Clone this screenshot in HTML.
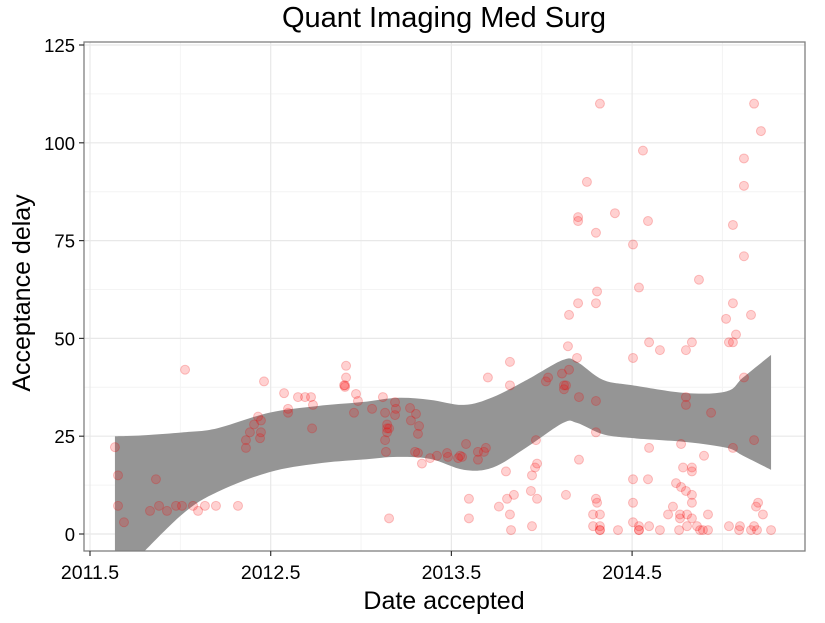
<!DOCTYPE html>
<html><head><meta charset="utf-8"><style>
body{margin:0;background:#fff;}
svg text{font-family:"Liberation Sans",sans-serif;}
</style></head><body>
<svg id="chart" width="825" height="618" xmlns="http://www.w3.org/2000/svg">
<defs><clipPath id="clip"><rect x="84" y="42" width="721" height="509"/></clipPath></defs>
<rect x="84" y="42" width="721" height="509" fill="#fff"/>
<g id="grid"></g>
<g id="ribbon" clip-path="url(#clip)"></g>
<g id="points" clip-path="url(#clip)"></g>
<rect x="84" y="42" width="721" height="509" fill="none" stroke="#7f7f7f" stroke-width="1.3"/>
<g id="axes"></g>
<text x="444" y="27" text-anchor="middle" font-size="29" fill="#000">Quant Imaging Med Surg</text>
<text x="444" y="609" text-anchor="middle" font-size="25" fill="#000">Date accepted</text>
<text transform="translate(30,293) rotate(-90)" text-anchor="middle" font-size="25" fill="#000">Acceptance delay</text>
</svg>
<script>
const xTicks=[2011.5,2012.5,2013.5,2014.5];
const xTickLabels=["2011.5","2012.5","2013.5","2014.5"];
const yTicks=[0,25,50,75,100,125];
const yTickLabels=["0","25","50","75","100","125"];
const ribbonX=[2011.638,2011.788,2012.020,2012.203,2012.491,2012.756,2013.0,2013.199,2013.382,2013.570,2013.730,2013.918,2014.118,2014.195,2014.339,2014.505,2014.804,2015.025,2015.114,2015.269];
const ribbonUpper=[25,25.2,26,27,31,32.7,33.7,34.8,34.3,33,35,39.4,44.5,44,39.4,38,36,36.5,40,45.8];
const ribbonLower=[-12,-5,5.4,10.7,15.8,18,19,19.7,19.2,16.4,17,22.2,28.4,28.4,25.5,24.5,23.5,22,20,16.4];
const dates=[2011.638,2011.655,2011.655,2011.688,2012.026,2011.865,2011.832,2011.882,2011.926,2011.976,2012.009,2012.070,2012.098,2012.136,2012.197,2012.319,
2012.463,2012.363,2012.363,2012.385,2012.408,2012.430,2012.446,2012.441,2012.446,2012.574,2012.596,2012.596,2012.651,2012.690,2012.723,2012.734,2012.729,
2012.906,2012.911,2012.911,2012.917,2012.917,2012.961,2012.972,2012.983,2013.061,2013.121,2013.133,2013.144,2013.144,2013.133,2013.138,2013.155,2013.155,2013.144,2013.188,2013.188,2013.193,
2013.271,2013.276,2013.304,2013.315,2013.321,2013.299,2013.315,2013.337,2013.382,2013.420,2013.476,2013.481,2013.537,2013.559,
2014.322,2015.175,2015.213,2014.560,2015.119,2015.119,2014.250,2014.405,2014.201,2014.201,2014.588,2015.058,2014.300,2014.505,2015.119,2014.870,2014.538,2014.306,2014.201,2014.300,2015.058,2014.151,2015.020,2015.158,2015.075,2015.036,2015.058,2014.594,2014.831,2014.654,2014.798,2014.145,2014.505,2014.195,2013.824,2013.702,2013.824,2014.035,2014.023,2014.112,2014.151,2014.123,2014.123,2014.134,2014.206,2014.300,2014.798,2014.798,2014.937,2015.119,2014.300,2015.175,2015.058,2014.594,2014.771,2013.968,2013.581,2013.647,2013.647,2013.680,2013.691,2013.548,2014.206,2013.974,2013.963,2013.946,2013.802,2014.898,2014.782,2014.831,2014.831,2014.505,2014.588,2013.597,2013.597,2013.940,2013.974,2013.846,2013.808,2013.763,2013.824,2013.830,2013.946,2014.134,2014.743,2014.771,2014.798,2014.300,2014.306,2014.505,2014.284,2014.322,2014.322,2014.284,2014.322,2014.322,2014.422,2014.505,2014.538,2014.538,2014.538,2014.594,2014.654,2014.726,2014.699,2014.765,2014.765,2014.804,2014.804,2014.760,2014.831,2014.831,2014.831,2014.876,2014.892,2014.920,2014.859,2014.920,2015.036,2015.097,2015.092,2015.158,2015.175,2015.191,2015.197,2015.186,2015.224,2015.269];
const delays=[22.2,15,7.2,3,42,14,5.9,7.2,5.9,7.2,7.2,7.2,5.9,7.2,7.2,7.2,
39,22,24,26,28,30,29,24.5,26,36,32,31,35,35,35,33,27,
38,37.6,38,40,43,31,35.8,34,32,35,31,28,27,24,21,4,27,26,33.7,30.4,32,
32.2,29,30.7,25.6,27.6,21,20.7,18,19.4,20,20.7,19.7,19.4,19.7,
110,110,103,98,96,89,90,82,81,80,80,79,77,74,71,65,63,62,59,59,59,56,55,56,51,49,49,49,49,47,47,48,45,45,44,40,38,40,39,41,42,38,37,38,35,34,35,33,31,40,26,24,22,22,23,24,23,21,19,21,22,20,19,18,17,15,16,20,17,17,16,14,14,9,4,11,9,10,9,7,5,1,2,10,13,12,11,9,8,8,5,5,2,2,1,1,1,3,2,1,1,2,1,7,5,5,4,5,2,1,10,8,4,1,1,1,2,5,2,2,1,1,2,1,8,7,5,1];
const NS="http://www.w3.org/2000/svg";
const xScale=v=>90+(v-2011.5)*180.7;
const yScale=v=>534-v*3.912;
function mk(tag,attrs,parent){const e=document.createElementNS(NS,tag);for(const k in attrs)e.setAttribute(k,attrs[k]);parent.appendChild(e);return e;}
const grid=document.getElementById('grid');
for(let i=0;i<yTicks.length-1;i++){
  const m=(yTicks[i]+yTicks[i+1])/2;
  const l=mk('line',{x1:84,x2:805,y1:yScale(m),y2:yScale(m),stroke:'#f4f4f4','stroke-width':1},grid);
  
  
}
for(let i=0;i<xTicks.length;i++){
  const m=xTicks[i]+0.5;
  const l=mk('line',{x1:xScale(m),x2:xScale(m),y1:42,y2:551,stroke:'#f4f4f4','stroke-width':1},grid);
  
  
}
const axes=document.getElementById('axes');
yTicks.forEach((t,i)=>{
  const l=mk('line',{x1:84,x2:805,y1:yScale(t),y2:yScale(t),stroke:'#e8e8e8','stroke-width':1.2},grid);
  
  
  const tk=mk('line',{x1:79,x2:84,y1:yScale(t),y2:yScale(t),stroke:'#333','stroke-width':1.2},axes);
  
  
  const tx=mk('text',{x:75,y:yScale(t)+7,'text-anchor':'end','font-size':18.5,fill:'#000'},axes);
  tx.textContent=yTickLabels[i];
  
  
});
xTicks.forEach((t,i)=>{
  const l=mk('line',{x1:xScale(t),x2:xScale(t),y1:42,y2:551,stroke:'#e8e8e8','stroke-width':1.2},grid);
  
  
  const tk=mk('line',{x1:xScale(t),x2:xScale(t),y1:551,y2:556,stroke:'#333','stroke-width':1.2},axes);
  
  
  const tx=mk('text',{x:xScale(t),y:579,'text-anchor':'middle','font-size':19.5,fill:'#000'},axes);
  tx.textContent=xTickLabels[i];
  
  
});
function smooth(pts){
  let s='';
  for(let i=0;i<pts.length-1;i++){
    const p0=pts[Math.max(0,i-1)],p1=pts[i],p2=pts[i+1],p3=pts[Math.min(pts.length-1,i+2)];
    const c1=[p1[0]+(p2[0]-p0[0])/6,p1[1]+(p2[1]-p0[1])/6];
    const c2=[p2[0]-(p3[0]-p1[0])/6,p2[1]-(p3[1]-p1[1])/6];
    s+='C'+c1[0]+','+c1[1]+' '+c2[0]+','+c2[1]+' '+p2[0]+','+p2[1];
  }
  return s;
}
const up=ribbonX.map((x,i)=>[xScale(x),yScale(ribbonUpper[i])]);
const lo=ribbonX.map((x,i)=>[xScale(x),yScale(ribbonLower[i])]).reverse();
let d='M'+up[0][0]+','+up[0][1]+smooth(up)+'L'+lo[0][0]+','+lo[0][1]+smooth(lo)+'Z';
const rb=mk('path',{d:d,fill:'#959595'},document.getElementById('ribbon'));


const pts=document.getElementById('points');
dates.forEach((x,i)=>{
  const c=mk('circle',{cx:xScale(x),cy:yScale(delays[i]),r:4.5,fill:'rgba(255,0,0,0.18)',stroke:'rgba(235,0,0,0.22)','stroke-width':1},pts);
  
  
});
</script>
</body></html>
